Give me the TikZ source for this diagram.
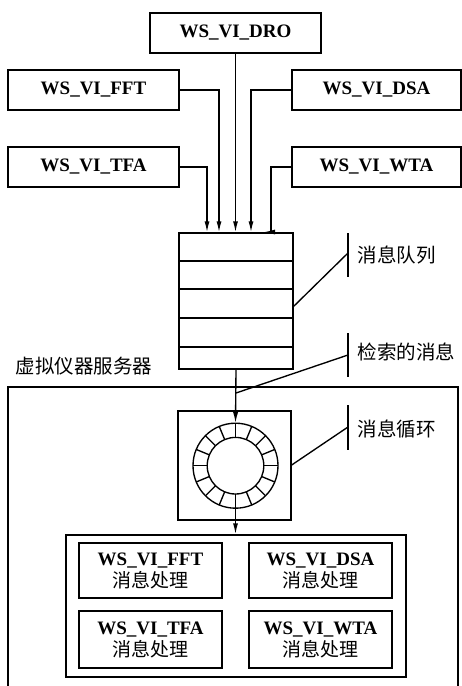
\documentclass[tikz,border=0pt]{standalone}
\usepackage{fontspec}
\setmainfont{Liberation Serif}
\newfontfamily\cjk{Noto Sans CJK SC}
\usetikzlibrary{arrows.meta,calc}
\begin{document}
\begin{tikzpicture}[x=1pt,y=-1pt,
  line width=1.35pt,
  lat/.style={font=\fontsize{19}{22}\selectfont\bfseries},
  zh/.style={font=\fontsize{19.5}{22}\selectfont\cjk},
  topbox/.style={draw,rectangle,minimum height=40pt,inner sep=0pt,lat},
  subbox/.style={draw,rectangle,minimum width=143pt,inner sep=0pt,align=center,font=\fontsize{19}{23}\selectfont},
  arr/.style={-{Latex[length=11pt,width=5pt]}},
  bar/.style={line width=1.35pt}
]
\useasboundingbox (0,0) rectangle (462,686);

% top boxes
\node[topbox,minimum width=171pt] (dro) at (235.5,33) {WS\_VI\_DRO};
\node[topbox,minimum width=171pt] (fft) at (93.5,90) {WS\_VI\_FFT};
\node[topbox,minimum width=169pt] (dsa) at (376.5,90) {WS\_VI\_DSA};
\node[topbox,minimum width=171pt] (tfa) at (93.5,167) {WS\_VI\_TFA};
\node[topbox,minimum width=169pt] (wta) at (376.5,167) {WS\_VI\_WTA};

% queue
\node[draw,rectangle,minimum width=114pt,minimum height=136pt,inner sep=0pt] (queue) at (236,301) {};
\foreach \yy in {261,289,318,347}
  \draw (queue.west |- 0,\yy) -- (queue.east |- 0,\yy);

% arrows into queue
\draw[arr] (tfa.east) -| ([xshift=-29pt]queue.north);
\draw[arr] (fft.east) -| ([xshift=-17pt]queue.north);
\draw[arr] (dro.south) -- (dro.south |- queue.north);
\draw[arr] (dsa.west) -| ([xshift=15pt]queue.north);
\coordinate (wtaturn) at (271,232);
\coordinate (wtaend) at (264,232);
\draw (wta.west) -| (wtaturn);
\draw[arr] (wtaturn) -- (wtaend);

% outer server box
\coordinate (srvbl) at (8,690);
\coordinate (srvtl) at (8,387);
\coordinate (srvtr) at (458,387);
\coordinate (srvbr) at (458,690);
\draw (srvbl) -- (srvtl) -- (srvtr) -- (srvbr);
\node[zh,anchor=west,inner sep=0pt] (srvlabel) at (15,366) {虚拟仪器服务器};

% message loop
\node[draw,rectangle,minimum width=113pt,minimum height=109pt,inner sep=0pt] (loop) at (234.5,465.5) {};
\coordinate (rc) at (235.5,465.7);
\draw (rc) circle (42.5);
\draw (rc) circle (28.3);
\foreach \a in {0,22.5,...,337.5}
  \draw ($(rc)+(\a:28.3)$) -- ($(rc)+(\a:42.5)$);
\coordinate (ringtop) at (235.5,423.2);
\coordinate (ringbot) at (235.5,508.2);
\draw[arr] (queue.south) -- (ringtop);

% processing box
\node[draw,rectangle,minimum width=340pt,minimum height=142pt,inner sep=0pt] (proc) at (236,606) {};
\draw[arr] (ringbot) -- (ringbot |- proc.north);

\node[subbox,minimum height=55pt] (pfft) at (150.5,570.5) {\textbf{WS\_VI\_FFT}\\[-1pt]{\cjk 消息处理}};
\node[subbox,minimum height=55pt] (pdsa) at (320.5,570.5) {\textbf{WS\_VI\_DSA}\\[-1pt]{\cjk 消息处理}};
\node[subbox,minimum height=57pt] (ptfa) at (150.5,639.5) {\textbf{WS\_VI\_TFA}\\[-1pt]{\cjk 消息处理}};
\node[subbox,minimum height=57pt] (pwta) at (320.5,639.5) {\textbf{WS\_VI\_WTA}\\[-1pt]{\cjk 消息处理}};

% labels
\coordinate (b1t) at (348,233); \coordinate (b1b) at (348,277);
\draw[bar] (b1t) -- (b1b);
\node[zh,anchor=west,inner sep=0pt] (lq) at (357,255) {消息队列};
\coordinate (l1s) at (293,307); \coordinate (l1e) at (348,253);
\draw (l1s) -- (l1e);

\coordinate (b2t) at (348,333); \coordinate (b2b) at (348,377);
\draw[bar] (b2t) -- (b2b);
\node[zh,anchor=west,inner sep=0pt] (lr) at (357,352) {检索的消息};
\coordinate (l2s) at (236,393); \coordinate (l2e) at (348,355);
\draw (l2s) -- (l2e);

\coordinate (b3t) at (348,405); \coordinate (b3b) at (348,450);
\draw[bar] (b3t) -- (b3b);
\node[zh,anchor=west,inner sep=0pt] (ll) at (357,429) {消息循环};
\coordinate (l3e) at (348,427);
\draw (loop.east |- 0,465) -- (l3e);
\end{tikzpicture}
\end{document}
